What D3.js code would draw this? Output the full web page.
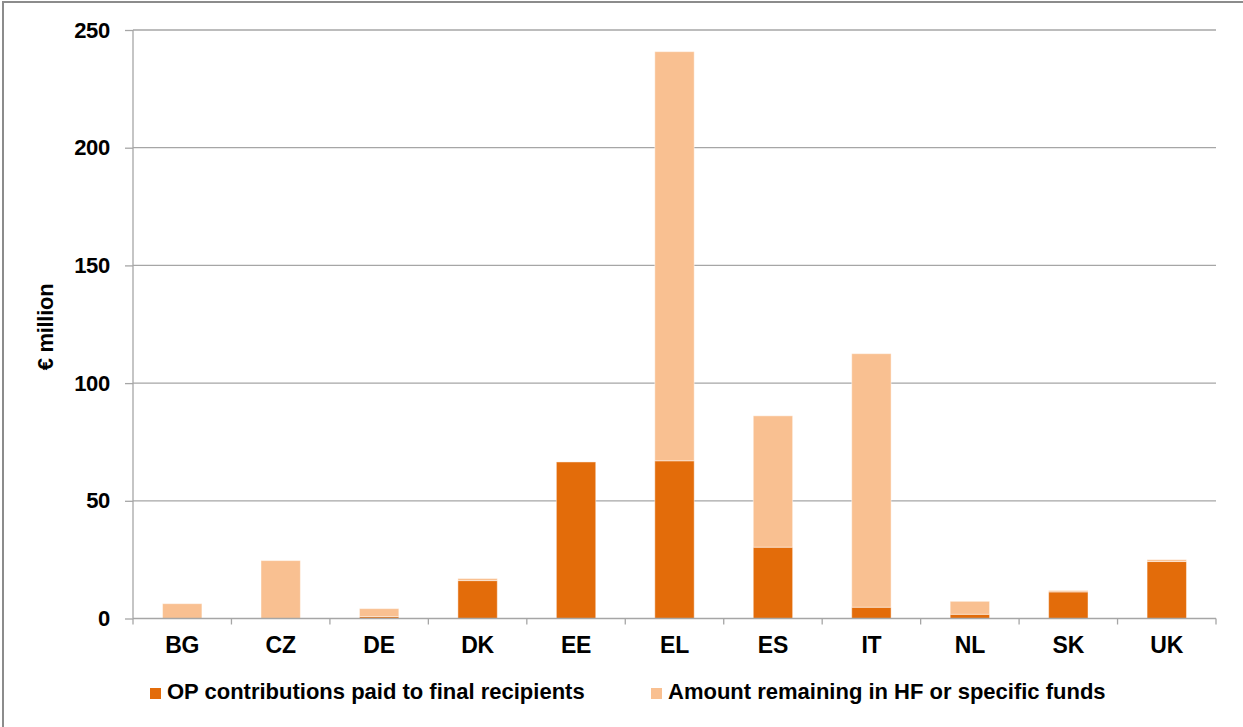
<!DOCTYPE html>
<html>
<head>
<meta charset="utf-8">
<script src="https://cdn.jsdelivr.net/npm/d3@7"></script>
<style>
  html, body { margin: 0; padding: 0; background: #fff; }
  svg { display: block; font-family: "Liberation Sans", Arial, sans-serif; }
</style>
</head>
<body>
<svg id="chart" width="1243" height="727"></svg>
<script>
const categories = ["BG","CZ","DE","DK","EE","EL","ES","IT","NL","SK","UK"];
const paidToRecipients = [0, 0, 0.8, 16.1, 66.5, 67.0, 30.3, 4.8, 1.8, 11.3, 24.2];
const remainingInFunds = [6.3, 24.6, 3.4, 0.9, 0, 173.8, 55.8, 107.7, 5.5, 0.6, 0.8];
const yTicks = [0, 50, 100, 150, 200, 250];
const seriesNames = ["OP contributions paid to final recipients", "Amount remaining in HF or specific funds"];
const colors = ["#E36C0A", "#F9C091"];

const svg = d3.select("#chart");
const W = 1243, H = 727;
const m = { left: 133, right: 1216, top: 30, bottom: 618.5 };

// outer frame
svg.append("rect").attr("x", 3).attr("y", 2).attr("width", W + 10).attr("height", H + 10)
  .attr("fill", "none").attr("stroke", "#8c8c8c").attr("stroke-width", 2);

const x = d3.scaleBand().domain(categories).range([m.left, m.right]).padding(0);
const y = d3.scaleLinear().domain([0, 250]).range([m.bottom, m.top]);

// gridlines
svg.append("g").selectAll("line").data(yTicks.filter(t => t > 0)).join("line")
  .attr("x1", m.left).attr("x2", m.right)
  .attr("y1", d => y(d)).attr("y2", d => y(d))
  .attr("stroke", "#a6a6a6").attr("stroke-width", 1.3);

// y axis
const yAxis = svg.append("g").attr("transform", `translate(${m.left},0)`)
  .call(d3.axisLeft(y).tickValues(yTicks).tickSize(8).tickPadding(15));
yAxis.select(".domain").attr("stroke", "#a6a6a6").attr("stroke-width", 1.3).attr("d", `M0,${m.top}V${m.bottom}`);
yAxis.selectAll(".tick line").attr("stroke", "#a6a6a6").attr("stroke-width", 1.3);
yAxis.selectAll(".tick text").attr("font-size", 22).attr("font-weight", "bold").attr("fill", "#000")
  .attr("font-family", "Liberation Sans, Arial, sans-serif").attr("letter-spacing", -0.3);

// stacked bars
const stackData = categories.map((c, i) => ({ cat: c, paid: paidToRecipients[i], remaining: remainingInFunds[i] }));
const stack = d3.stack().keys(["paid", "remaining"])(stackData);
const bw = x.bandwidth() * 0.4;
svg.append("g").selectAll("g").data(stack).join("g")
  .attr("fill", (d, i) => colors[i])
  .selectAll("rect").data(d => d).join("rect")
  .attr("x", d => x(d.data.cat) + (x.bandwidth() - bw) / 2)
  .attr("width", bw)
  .attr("y", d => y(d[1]))
  .attr("height", d => Math.max(0, y(d[0]) - y(d[1])))
  .attr("stroke", "#ffffff").attr("stroke-opacity", 0.45).attr("stroke-width", 1);

// x axis
const xAxis = svg.append("g").attr("transform", `translate(0,${m.bottom})`)
  .call(d3.axisBottom(x).tickSize(0).tickPadding(18));
xAxis.select(".domain").attr("stroke", "#a6a6a6").attr("stroke-width", 1.3).attr("d", `M${m.left},0H${m.right}`);
xAxis.selectAll(".tick text").attr("font-size", 23).attr("font-weight", "bold").attr("fill", "#000")
  .attr("font-family", "Liberation Sans, Arial, sans-serif").attr("letter-spacing", -0.2);
const boundaries = categories.map(c => x(c)).concat([x.range()[1]]);
xAxis.append("g").selectAll("line").data(boundaries).join("line")
  .attr("x1", d => d).attr("x2", d => d).attr("y1", 0).attr("y2", 6)
  .attr("stroke", "#a6a6a6").attr("stroke-width", 1.3);

// y label
svg.append("text")
  .attr("transform", `translate(53,327) rotate(-90)`)
  .attr("text-anchor", "middle")
  .attr("font-size", 22).attr("font-weight", "bold").attr("letter-spacing", -0.3)
  .text("€ million");

// legend
const legendX = [150, 651];
const lg = svg.append("g");
seriesNames.forEach((name, i) => {
  lg.append("rect").attr("x", legendX[i]).attr("y", 688).attr("width", 11).attr("height", 11).attr("fill", colors[i]);
  lg.append("text").attr("x", legendX[i] + 17).attr("y", 698.5)
    .attr("font-size", 22).attr("font-weight", "bold").attr("letter-spacing", 0)
    .text(name);
});
</script>
</body>
</html>
